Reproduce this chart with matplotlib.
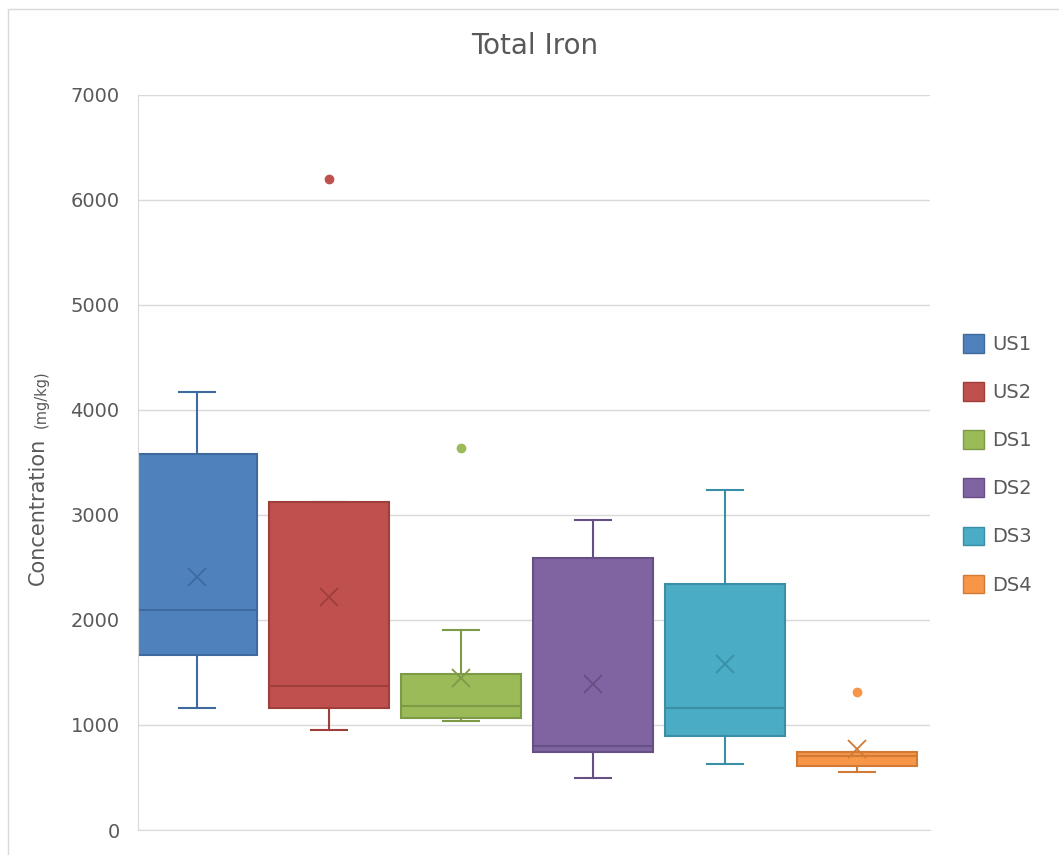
import matplotlib
matplotlib.use("Agg")
import matplotlib.pyplot as plt
from matplotlib.patches import Rectangle, Patch

# box statistics
sites = ["US1", "US2", "DS1", "DS2", "DS3", "DS4"]
whisk_lo = [1162, 952, 1038, 495, 629, 552]
q1 = [1667, 1162, 1067, 743, 895, 610]
median = [2095, 1371, 1181, 800, 1162, 705]
q3 = [3581, 3124, 1486, 2590, 2343, 743]
whisk_hi = [4171, 3124, 1905, 2952, 3238, 743]
mean = [2410, 2219, 1448, 1390, 1581, 771]
outliers = [[], [6200], [3638], [], [], [1314]]

fills = ["#4F81BD", "#C0504D", "#9BBB59", "#8064A2", "#4BACC6", "#F79646"]
edges = ["#3F6A9E", "#9E3F3C", "#7E9A46", "#664F84", "#3A8FA6", "#D07A35"]

grey = "#595959"

fig = plt.figure(figsize=(10.59, 8.55), dpi=100)
fig.patches.append(Rectangle((0.008, -0.01), 1.1, 1.0, transform=fig.transFigure,
                             fill=False, edgecolor="#D9D9D9", linewidth=1))
ax = fig.add_axes([0.130, 0.0292, 0.748, 0.860])

for i, name in enumerate(sites):
    st = [{
        "whislo": whisk_lo[i], "q1": q1[i], "med": median[i], "q3": q3[i],
        "whishi": whisk_hi[i], "mean": mean[i], "fliers": outliers[i],
    }]
    ec = edges[i]
    ax.bxp(st, positions=[i], widths=0.91, patch_artist=True, showmeans=True,
           showfliers=True, capwidths=0.27,
           boxprops=dict(facecolor=fills[i], edgecolor=ec, linewidth=1.5),
           medianprops=dict(color=ec, linewidth=1.5),
           whiskerprops=dict(color=ec, linewidth=1.5),
           capprops=dict(color=ec, linewidth=1.5),
           meanprops=dict(marker="x", markeredgecolor=ec, markersize=13,
                          markeredgewidth=1.3),
           flierprops=dict(marker="o", markerfacecolor=fills[i],
                           markeredgecolor=fills[i], markersize=6))

ax.set_xlim(-0.45, 5.55)
ax.set_ylim(0, 7000)
ax.set_yticks(range(0, 7001, 1000))
ax.set_xticks([])
ax.yaxis.grid(True, color="#D9D9D9", linewidth=1)
ax.set_axisbelow(True)
for s in ["top", "right"]:
    ax.spines[s].set_visible(False)
ax.spines["left"].set_color("#D9D9D9")
ax.spines["bottom"].set_color("#D9D9D9")
ax.tick_params(axis="y", length=0, labelsize=14, labelcolor=grey, pad=13)
ax.tick_params(axis="x", length=0)

fig.text(0.505, 0.946, "Total Iron", ha="center", va="center",
         fontsize=20, color=grey)
fig.text(0.036, 0.402, "Concentration", rotation=90, ha="center", va="center",
         fontsize=15, color=grey)
fig.text(0.039, 0.533, "(mg/kg)", rotation=90, ha="center", va="center",
         fontsize=10.5, color=grey)

handles = [Patch(facecolor=fills[i], edgecolor=edges[i]) for i in range(len(sites))]
leg = fig.legend(handles, sites, loc="center left", bbox_to_anchor=(0.902, 0.457),
                 frameon=False, fontsize=14, handlelength=1.1, handleheight=1.1,
                 labelspacing=1.45, handletextpad=0.4, borderaxespad=0)
for t in leg.get_texts():
    t.set_color(grey)

plt.savefig("out.png", dpi=100)
